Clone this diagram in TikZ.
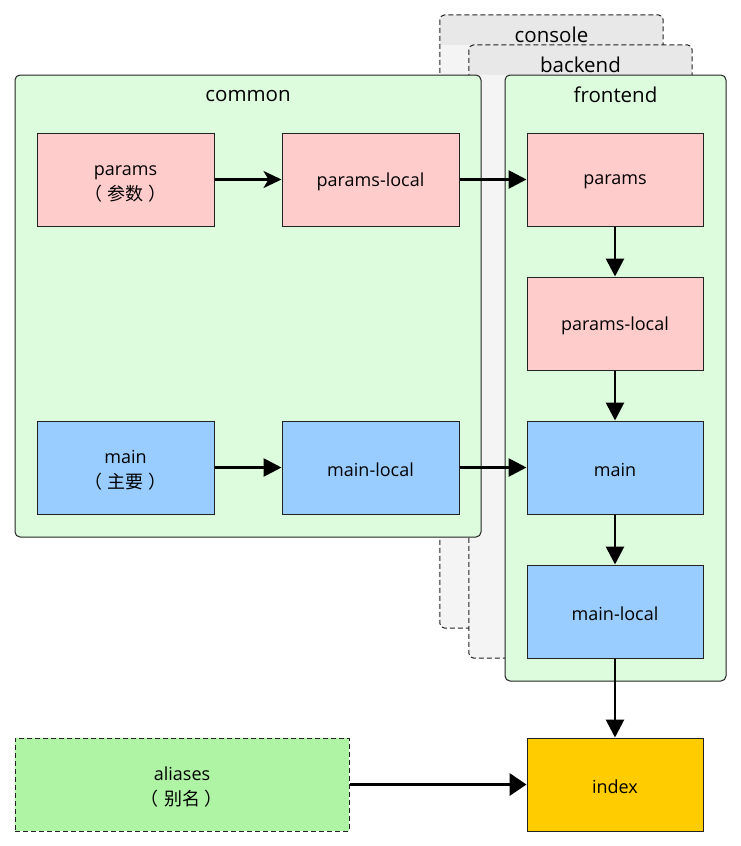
\documentclass[tikz,border=0pt]{standalone}
\usepackage{fontspec}
\setmainfont{Open Sans}
\newfontfamily\cjk{Noto Sans CJK SC}
\usetikzlibrary{arrows.meta}
\definecolor{pinkfill}{HTML}{FFCCCC}
\definecolor{bluefill}{HTML}{99CCFF}
\definecolor{greenbg}{HTML}{DDFCDD}
\definecolor{aliasfill}{HTML}{AEF4A4}
\definecolor{indexfill}{HTML}{FFCC00}
\definecolor{lanebody}{HTML}{F4F4F4}
\definecolor{lanehead}{HTML}{E8E8E8}
\definecolor{edge}{HTML}{222222}
\newcommand{\lblone}[1]{\raisebox{-2.5pt}[\height][\depth]{#1}}
\newcommand{\cjkparen}[1]{{\cjk\hspace*{-0.3em}（\hspace*{0.3em}#1\hspace*{0.25em}）\hspace*{-0.25em}}}
\newcommand{\lbltwo}[2]{\raisebox{-3.5pt}[\height][\depth]{\begin{tabular}{@{}c@{}}#1\\\cjkparen{#2}\end{tabular}}}
\begin{document}
\begin{tikzpicture}[x=1pt,y=-1pt,
  txt/.style={font=\fontsize{18}{24.5}\selectfont},
  ttl/.style={font=\fontsize{20.5}{24}\selectfont, inner sep=0pt},
  box/.style={draw=edge, line width=1pt, minimum width=177pt, minimum height=93pt, inner sep=0pt, align=center, txt},
  pinkbox/.style={box, fill=pinkfill},
  bluebox/.style={box, fill=bluefill},
  container/.style={draw=edge, line width=1pt, fill=greenbg, rounded corners=5pt, inner sep=0pt},
  lane/.style={fill=lanebody, inner sep=0pt, rounded corners=5pt},
  laneborder/.style={draw=edge, line width=1pt, dash pattern=on 5pt off 3pt, rounded corners=5pt},
  arr/.style={line width=2.8pt, -{Triangle[length=18pt,width=18pt]}},
  arrc/.style={line width=2.8pt, -{Stealth[length=18pt,width=17pt,inset=5pt]}},
  arrw/.style={line width=3.6pt, -{Triangle[length=17pt,width=22pt]}}
]
\useasboundingbox (0,0) rectangle (741,846);

% console lane
\node[lane, minimum width=223pt, minimum height=613pt] (console) at (551.5,321.5) {};
\begin{scope}
  \clip[rounded corners=5pt] (console.north west) rectangle (console.south east);
  \fill[lanehead] (console.north west) rectangle ([yshift=-30pt]console.north east);
\end{scope}
\draw[laneborder] (console.north west) rectangle (console.south east);
\node[ttl] (consolet) at (551.5,35) {console};

% backend lane
\node[lane, minimum width=223pt, minimum height=613pt] (backend) at (580.5,351.5) {};
\begin{scope}
  \clip[rounded corners=5pt] (backend.north west) rectangle (backend.south east);
  \fill[lanehead] (backend.north west) rectangle ([yshift=-30pt]backend.north east);
\end{scope}
\draw[laneborder] (backend.north west) rectangle (backend.south east);
\node[ttl] (backendt) at (580.5,65) {backend};

% common container
\node[container, minimum width=466pt, minimum height=462pt] (common) at (248,306) {};
\node[ttl] (commont) at (248,96.5) {common};

% frontend container
\node[container, minimum width=221pt, minimum height=606pt] (frontend) at (615.5,378) {};
\node[ttl] (frontendt) at (615.5,95) {frontend};

% common nodes
\node[pinkbox] (params) at (125.5,179.5) {\lbltwo{params}{参数}};
\node[pinkbox] (plocal) at (370.5,179.5) {\lblone{params-local}};
\node[bluebox] (main) at (125.5,467.5) {\lbltwo{main}{主要}};
\node[bluebox] (mlocal) at (370.5,467.5) {\lblone{main-local}};

% frontend nodes
\node[pinkbox, minimum width=176pt] (fparams) at (615,179.5) {\lblone{params}};
\node[pinkbox, minimum width=176pt] (fplocal) at (615,323.5) {\lblone{params-local}};
\node[bluebox, minimum width=176pt] (fmain) at (615,467.5) {\lblone{main}};
\node[bluebox, minimum width=176pt] (fmlocal) at (615,611.5) {\lblone{main-local}};

% bottom nodes
\node[box, fill=aliasfill, dash pattern=on 5pt off 3pt, minimum width=334pt] (aliases) at (182,784.5) {\lbltwo{aliases}{别名}};
\node[box, fill=indexfill, minimum width=176pt] (index) at (615,784.5) {\lblone{index}};

% connectors
\draw[arrc] (params) -- (plocal);
\draw[arr] (plocal) -- (fparams);
\draw[arr] (fparams) -- (fplocal);
\draw[arr] (fplocal) -- (fmain);
\draw[arr] (main) -- (mlocal);
\draw[arr] (mlocal) -- (fmain);
\draw[arr] (fmain) -- (fmlocal);
\draw[arr] (fmlocal) -- (index);
\draw[arrw] (aliases) -- (index);
\end{tikzpicture}
\end{document}
